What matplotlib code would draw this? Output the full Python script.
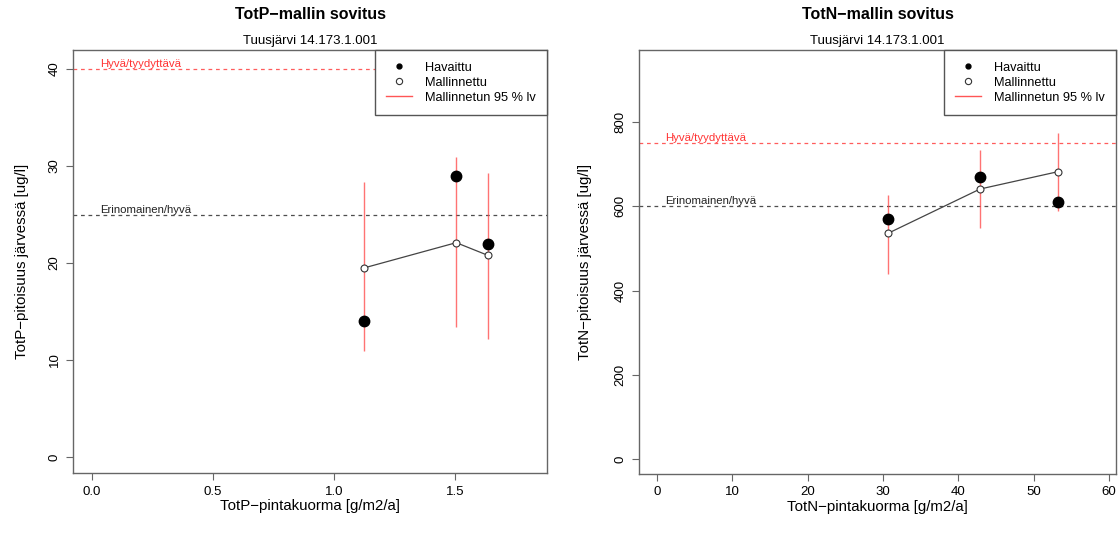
import numpy as np
import matplotlib
matplotlib.use("Agg")
import matplotlib.pyplot as plt
from matplotlib.lines import Line2D

plt.rcParams['font.family'] = ['Liberation Sans', 'DejaVu Sans']

# TotP panel
p_load = [1.125, 1.505, 1.635]
p_obs = [14.0, 29.0, 22.0]
p_mod = [19.5, 22.1, 20.8]
p_lo = [10.9, 13.4, 12.2]
p_hi = [28.4, 30.9, 29.3]
p_limits = [40, 25]

# TotN panel
n_load = [30.7, 42.9, 53.2]
n_obs = [570, 670, 610]
n_mod = [536, 641, 682]
n_lo = [439, 548, 589]
n_hi = [627, 733, 773]
n_limits = [750, 600]

limit_names = ['Hyvä/tyydyttävä', 'Erinomainen/hyvä']
limit_colors = ['#ff3333', '#222222']

site = 'Tuusjärvi 14.173.1.001'
axcol = '#666666'


def panel(ax, x, obs, mod, lo, hi, limits, xlim, ylim, xticks, yticks,
          xticklabels, title, xlabel, ylabel, txt_x, ypad):
    ax.set_xlim(xlim)
    ax.set_ylim(ylim)
    for lim, name, col in zip(limits, limit_names, limit_colors):
        ax.axhline(lim, color=col, ls=(0, (3, 3)), lw=0.9, alpha=0.8, zorder=1)
        ax.text(txt_x, lim, name, color=col, fontsize=8.2, ha='left', va='bottom')
    ax.vlines(x, lo, hi, color='#ff4444', lw=1.0, alpha=0.75, zorder=2)
    ax.plot(x, mod, color='#444444', lw=0.9, zorder=3)
    ax.plot(x, mod, 'o', ms=5, mfc='white', mec='#333333', mew=0.8, zorder=4)
    ax.plot(x, obs, 'o', ms=7.5, color='black', zorder=5)

    ax.set_xticks(xticks)
    ax.set_xticklabels(xticklabels)
    ax.set_yticks(yticks)
    ax.set_yticklabels([str(v) for v in yticks], rotation=90, va='center')
    ax.tick_params(length=5, color=axcol, labelsize=9.5, pad=4)
    for s in ax.spines.values():
        s.set_color(axcol)
        s.set_linewidth(1.0)

    ax.text(0.5, 1.083, title, transform=ax.transAxes, ha='center', va='center',
            fontsize=11.5, fontweight='bold')
    ax.text(0.5, 1.022, site, transform=ax.transAxes, ha='center', va='center',
            fontsize=9.5)
    ax.set_xlabel(xlabel, fontsize=10.8, labelpad=1)
    ax.set_ylabel(ylabel, fontsize=10.8, labelpad=ypad)

    handles = [
        Line2D([], [], ls='none', marker='o', ms=3.5, color='black'),
        Line2D([], [], ls='none', marker='o', ms=4.5, mfc='white', mec='#333333', mew=0.8),
        Line2D([], [], color='#ff5555', lw=1.0),
    ]
    leg = ax.legend(handles, ['Havaittu', 'Mallinnettu', 'Mallinnetun 95 % lv'],
                    loc='upper right', borderaxespad=0, fancybox=False,
                    framealpha=1, fontsize=9.2, handlelength=2.0,
                    handletextpad=1.0, borderpad=0.9, labelspacing=0.25)
    leg.get_frame().set_edgecolor('#555555')
    leg.get_frame().set_linewidth(1.0)


fig = plt.figure(figsize=(11.2, 5.44), dpi=100)
ax1 = fig.add_axes([0.0652, 0.1305, 0.4232, 0.7775])
ax2 = fig.add_axes([0.5705, 0.1287, 0.4259, 0.7793])

panel(ax1, p_load, p_obs, p_mod, p_lo, p_hi, p_limits,
      (-0.078, 1.88), (-1.65, 41.96), [0, 0.5, 1.0, 1.5], [0, 10, 20, 30, 40],
      ['0.0', '0.5', '1.0', '1.5'],
      'TotP\u2212mallin sovitus', 'TotP\u2212pintakuorma [g/m2/a]',
      'TotP\u2212pitoisuus järvessä [ug/l]', 0.035, 14)

panel(ax2, n_load, n_obs, n_mod, n_lo, n_hi, n_limits,
      (-2.39, 60.95), (-35.6, 971), [0, 10, 20, 30, 40, 50, 60], [0, 200, 400, 600, 800],
      ['0', '10', '20', '30', '40', '50', '60'],
      'TotN\u2212mallin sovitus', 'TotN\u2212pintakuorma [g/m2/a]',
      'TotN\u2212pitoisuus järvessä [ug/l]', 1.1, 16)

fig.savefig('out.png', dpi=100)
